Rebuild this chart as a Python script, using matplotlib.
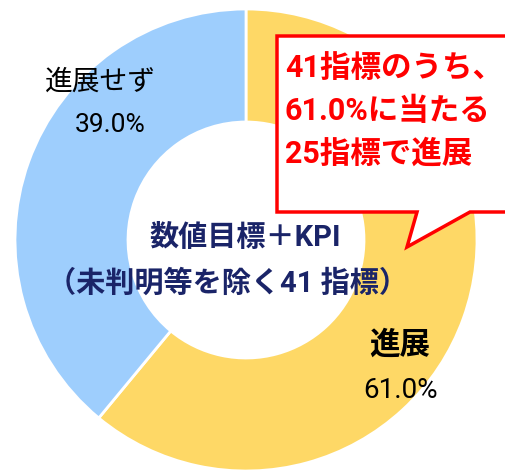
import matplotlib.pyplot as plt
from matplotlib.patches import Polygon

plt.rcParams['font.family'] = ['Roboto', 'Noto Sans CJK JP', 'DejaVu Sans']

# ---- data ----
labels = ['進展', '進展せず']
shares = [61.0, 39.0]
colors = ['#FED866', '#9ECEFD']
center_lines = ['数値目標＋KPI', '（未判明等を除く41 指標）']
callout_lines = ['41指標のうち、', '61.0%に当たる', '25指標で進展']

W, H = 506, 470
fig = plt.figure(figsize=(W / 100, H / 100), dpi=100)
ax = fig.add_axes([0, 0, 1, 1])

# pixel coords, y downwards -> start at -90 (top), counterclock=True draws clockwise on screen
cx, cy, r = 246, 240, 231
ax.pie(shares, colors=colors, startangle=-90, counterclock=True,
       center=(cx, cy), radius=r, frame=True,
       wedgeprops=dict(width=113, linewidth=2, edgecolor='white'))
ax.set_xlim(0, W)
ax.set_ylim(H, 0)
ax.set_aspect('equal')
ax.axis('off')

# segment labels
ax.text(100, 82, labels[1], ha='center', va='center', fontsize=20, color='black')
ax.text(110, 125, f'{shares[1]:.1f}%', ha='center', va='center', fontsize=19, color='black')
ax.text(400, 345, labels[0], ha='center', va='center', fontsize=22, fontweight='bold', color='black')
ax.text(401, 390, f'{shares[0]:.1f}%', ha='center', va='center', fontsize=20, color='black')

# centre text
navy = '#1A2468'
ax.text(245, 238, center_lines[0], ha='center', va='center', fontsize=21,
        fontweight='bold', color=navy)
ax.text(228, 283, center_lines[1], ha='center', va='center', fontsize=21,
        fontweight='bold', color=navy)

# callout box
pts = [(277, 36), (520, 36), (520, 212), (470, 212), (407, 247), (417, 212), (277, 212)]
ax.add_patch(Polygon(pts, closed=True, facecolor='white', edgecolor='#FF0000',
                     linewidth=2.5, zorder=5))
for i, line in enumerate(callout_lines):
    ax.text(285, 68 + i * 43, line, ha='left', va='center', fontsize=22,
            fontweight='bold', color='#FF0000', zorder=6)

fig.savefig('out.png', dpi=100)
